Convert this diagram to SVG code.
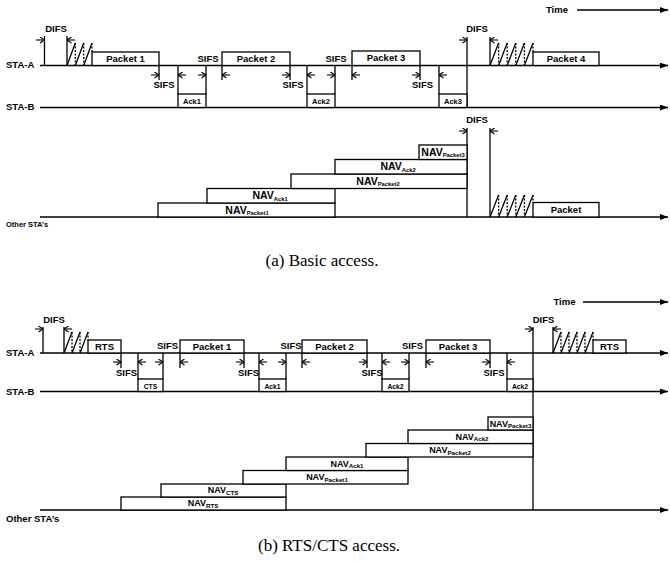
<svg xmlns="http://www.w3.org/2000/svg" width="670" height="563" viewBox="0 0 670 563">
<style>
.ln{stroke:#000;stroke-width:1.3;fill:none}
.bx{fill:#fff;stroke:#000;stroke-width:1.3}
.ax{stroke:#000;stroke-width:1.5;fill:none;marker-end:url(#ah)}
.ar{stroke:#000;stroke-width:1.1;fill:none;marker-end:url(#oa)}
.dash{stroke:#000;stroke-width:1.3;fill:none;stroke-dasharray:2 1.5}
.t{font-family:"Liberation Sans",Arial,Helvetica,sans-serif;font-weight:bold;font-size:9.5px;fill:#000}
.m{text-anchor:middle}
.s{font-size:7.5px}
.s2{font-size:6.8px}
.nv{font-size:10.5px}
.nv2{font-size:9px}
.sub{font-size:5.8px}
.sub2{font-size:6.2px}
.cap{font-family:"Liberation Serif","Times New Roman",serif;font-size:17px;fill:#000;text-anchor:middle}
</style>
<defs>
<marker id="ah" markerUnits="userSpaceOnUse" viewBox="0 0 8 6" markerWidth="8" markerHeight="6" refX="8" refY="3" orient="auto"><path d="M0,0 L8,3 L0,6 z" fill="#000"/></marker>
<marker id="oa" markerUnits="userSpaceOnUse" viewBox="0 0 6 7" markerWidth="6" markerHeight="7" refX="5.5" refY="3.5" orient="auto"><path d="M1,0.5 L5.5,3.5 L1,6.5" fill="none" stroke="#000" stroke-width="1.1"/></marker>
</defs>
<rect width="670" height="563" fill="#fff"/>

<!-- ================= (a) Basic access ================= -->
<g id="connectors-a">
<path class="ax" d="M577,10 H668"/>
<path class="ax" d="M40,65.5 H668"/>
<path class="ax" d="M40,107.5 H668"/>
<path class="ax" d="M40,217 H668"/>
<!-- DIFS / SIFS boundary lines -->
<path class="ln" d="M44.5,36 V65.5 M67,36 V65.5 M159,65 V80 M222,65 V80 M178,65 V94 M206,65 V94 M290,65 V80 M307,65 V94 M335,65 V94 M352,65 V80 M420,65 V80 M439,65 V94 M467,37 V107 M490,37 V65.5 M467,128 V217 M490,128 V217"/>
<!-- backoff -->
<path class="ln" d="M67,65.5 L75.3,43 M75.3,65.5 L83.7,43 M83.7,65.5 L92,43"/>
<path class="dash" d="M75.3,43 V65 M83.7,43 V65 M92,43 V52"/>
<path class="ln" d="M490,65.5 L498.6,43 M498.6,65.5 L507.2,43 M507.2,65.5 L515.8,43 M515.8,65.5 L524.4,43 M524.4,65.5 L533,43"/>
<path class="dash" d="M498.6,43 V65 M507.2,43 V65 M515.8,43 V65 M524.4,43 V65 M533,43 V52"/>
<path class="ln" d="M490,217 L498.6,195 M498.6,217 L507.2,195 M507.2,217 L515.8,195 M515.8,217 L524.4,195 M524.4,217 L533,195"/>
<path class="dash" d="M498.6,195 V217 M507.2,195 V217 M515.8,195 V217 M524.4,195 V217 M533,195 V202"/>
<!-- interval arrows -->
<path class="ar" d="M36,40 H44.5"/>
<path class="ar" d="M75,40 H67"/>
<path class="ar" d="M151,75 H159"/>
<path class="ar" d="M186,75 H178"/>
<path class="ar" d="M198,75 H206"/>
<path class="ar" d="M230,75 H222"/>
<path class="ar" d="M282,75 H290"/>
<path class="ar" d="M315,75 H307"/>
<path class="ar" d="M327,75 H335"/>
<path class="ar" d="M360,75 H352"/>
<path class="ar" d="M412,75 H420"/>
<path class="ar" d="M447,75 H439"/>
<path class="ar" d="M459,40 H467"/>
<path class="ar" d="M498,40 H490"/>
<path class="ar" d="M459,131 H467"/>
<path class="ar" d="M498,131 H490"/>
</g>

<g id="labels-a">
<text class="t" x="6" y="67.5">STA-A</text>
<text class="t" x="6" y="110">STA-B</text>
<text class="t s" x="6" y="227">Other STA’s</text>
<text class="t m" x="557" y="13">Time</text>
<text class="t m" x="56" y="32">DIFS</text>
<text class="t m" x="477" y="32">DIFS</text>
<text class="t m" x="477" y="123">DIFS</text>
<text class="t m" x="164" y="88">SIFS</text>
<text class="t m" x="208" y="61.5">SIFS</text>
<text class="t m" x="293" y="88">SIFS</text>
<text class="t m" x="336" y="62">SIFS</text>
<text class="t m" x="422.5" y="88">SIFS</text>
</g>

<g id="a-packet1"><rect class="bx" x="92" y="52" width="67" height="13.5"/><text class="t m" x="125.5" y="61.5">Packet 1</text></g>
<g id="a-ack1"><rect class="bx" x="178" y="94" width="28" height="13.5"/><text class="t m s" x="192" y="103.5">Ack1</text></g>
<g id="a-packet2"><rect class="bx" x="222" y="52" width="68" height="13.5"/><text class="t m" x="256" y="61.5">Packet 2</text></g>
<g id="a-ack2"><rect class="bx" x="307" y="94" width="28" height="13.5"/><text class="t m s" x="321" y="103.5">Ack2</text></g>
<g id="a-packet3"><rect class="bx" x="352" y="51" width="68" height="14.5"/><text class="t m" x="386" y="61">Packet 3</text></g>
<g id="a-ack3"><rect class="bx" x="439" y="94" width="28" height="13.5"/><text class="t m s" x="453" y="103.5">Ack3</text></g>
<g id="a-packet4"><rect class="bx" x="533" y="52" width="66" height="13.5"/><text class="t m" x="566" y="61.5">Packet 4</text></g>
<g id="a-packet"><rect class="bx" x="533" y="202.5" width="66" height="14.5"/><text class="t m" x="566" y="213">Packet</text></g>

<g id="a-nav-packet1"><rect class="bx" x="158" y="203" width="177" height="14"/><text class="t m nv" x="247" y="213.5">NAV<tspan class="sub" dy="1.5">Packet1</tspan></text></g>
<g id="a-nav-ack1"><rect class="bx" x="207" y="188.5" width="128" height="14.5"/><text class="t m nv" x="270" y="199">NAV<tspan class="sub" dy="1.5">Ack1</tspan></text></g>
<g id="a-nav-packet2"><rect class="bx" x="291" y="174" width="176" height="14.5"/><text class="t m nv" x="378" y="184.5">NAV<tspan class="sub" dy="1.5">Packet2</tspan></text></g>
<g id="a-nav-ack2"><rect class="bx" x="335" y="159.5" width="132" height="14.5"/><text class="t m nv" x="398" y="170">NAV<tspan class="sub" dy="1.5">Ack2</tspan></text></g>
<g id="a-nav-packet3"><rect class="bx" x="419" y="145" width="48" height="14.5"/><text class="t m nv" x="443" y="155.5">NAV<tspan class="sub" dy="1.5">Packet3</tspan></text></g>

<text class="cap" x="322" y="266">(a) Basic access.</text>

<!-- ================= (b) RTS/CTS access ================= -->
<g id="connectors-b">
<path class="ax" d="M583,302 H668"/>
<path class="ax" d="M40,353 H668"/>
<path class="ax" d="M40,391.5 H668"/>
<path class="ax" d="M40,510 H668"/>
<path class="ln" d="M43,327 V353 M64,327 V353 M121,353 V368 M138,353 V379 M163,353 V379 M180,353 V368 M244,353 V368 M259,353 V379 M286,353 V379 M302,353 V368 M367,353 V368 M382,353 V379 M409,353 V379 M426,353 V368 M490,353 V368 M507,353 V379 M533,327 V510 M553,327 V353"/>
<path class="ln" d="M64,353 L72,332 M72,353 L80,332 M80,353 L88,332"/>
<path class="dash" d="M72,332 V353 M80,332 V353 M88,332 V340"/>
<path class="ln" d="M553,353 L561,332 M561,353 L569,332 M569,353 L577,332 M577,353 L585,332 M585,353 L593,332"/>
<path class="dash" d="M561,332 V353 M569,332 V353 M577,332 V353 M585,332 V353 M593,332 V340"/>
<path class="ar" d="M35,329 H43"/>
<path class="ar" d="M72,329 H64"/>
<path class="ar" d="M113,362 H121"/>
<path class="ar" d="M146,362 H138"/>
<path class="ar" d="M155,362 H163"/>
<path class="ar" d="M188,362 H180"/>
<path class="ar" d="M236,362 H244"/>
<path class="ar" d="M267,362 H259"/>
<path class="ar" d="M278,362 H286"/>
<path class="ar" d="M310,362 H302"/>
<path class="ar" d="M359,362 H367"/>
<path class="ar" d="M390,362 H382"/>
<path class="ar" d="M401,362 H409"/>
<path class="ar" d="M434,362 H426"/>
<path class="ar" d="M482,362 H490"/>
<path class="ar" d="M515,362 H507"/>
<path class="ar" d="M525,329 H533"/>
<path class="ar" d="M561,329 H553"/>
</g>

<g id="labels-b">
<text class="t" x="6" y="356">STA-A</text>
<text class="t" x="6" y="394.5">STA-B</text>
<text class="t" x="6" y="521.5">Other STA’s</text>
<text class="t m" x="564.5" y="305">Time</text>
<text class="t m" x="54" y="323">DIFS</text>
<text class="t m" x="543.5" y="323">DIFS</text>
<text class="t m" x="126.5" y="375.5">SIFS</text>
<text class="t m" x="248.5" y="375.5">SIFS</text>
<text class="t m" x="372" y="375.5">SIFS</text>
<text class="t m" x="494" y="375.5">SIFS</text>
<text class="t m" x="167.5" y="349">SIFS</text>
<text class="t m" x="291" y="349">SIFS</text>
<text class="t m" x="412.5" y="349">SIFS</text>
</g>

<g id="b-rts1"><rect class="bx" x="88" y="340" width="33" height="13"/><text class="t m" x="104.5" y="350">RTS</text></g>
<g id="b-cts"><rect class="bx" x="138" y="379" width="25" height="12.5"/><text class="t m s2" x="150.5" y="388.5">CTS</text></g>
<g id="b-packet1"><rect class="bx" x="180" y="340" width="64" height="13"/><text class="t m" x="212" y="350">Packet 1</text></g>
<g id="b-ack1"><rect class="bx" x="259" y="379" width="27" height="12.5"/><text class="t m s2" x="272.5" y="388.5">Ack1</text></g>
<g id="b-packet2"><rect class="bx" x="302" y="340" width="65" height="13"/><text class="t m" x="334.5" y="350">Packet 2</text></g>
<g id="b-ack2a"><rect class="bx" x="382" y="379" width="27" height="12.5"/><text class="t m s2" x="395.5" y="388.5">Ack2</text></g>
<g id="b-packet3"><rect class="bx" x="426" y="340" width="64" height="13"/><text class="t m" x="458" y="350">Packet 3</text></g>
<g id="b-ack2b"><rect class="bx" x="507" y="379" width="26" height="12.5"/><text class="t m s2" x="520" y="388.5">Ack2</text></g>
<g id="b-rts2"><rect class="bx" x="593" y="340" width="33" height="13"/><text class="t m" x="609.5" y="350">RTS</text></g>

<g id="b-nav-rts"><rect class="bx" x="121" y="497" width="165" height="13"/><text class="t m nv2" x="203" y="506">NAV<tspan class="sub2" dy="1.5">RTS</tspan></text></g>
<g id="b-nav-cts"><rect class="bx" x="161" y="484" width="125" height="13"/><text class="t m nv2" x="223" y="493">NAV<tspan class="sub2" dy="1.5">CTS</tspan></text></g>
<g id="b-nav-packet1"><rect class="bx" x="243" y="470.5" width="165" height="13.5"/><text class="t m nv2" x="327" y="480">NAV<tspan class="sub2" dy="1.5">Packet1</tspan></text></g>
<g id="b-nav-ack1"><rect class="bx" x="286" y="457" width="122" height="13.5"/><text class="t m nv2" x="347" y="466.5">NAV<tspan class="sub2" dy="1.5">Ack1</tspan></text></g>
<g id="b-nav-packet2"><rect class="bx" x="366" y="443.5" width="167" height="13.5"/><text class="t m nv2" x="450" y="453">NAV<tspan class="sub2" dy="1.5">Packet2</tspan></text></g>
<g id="b-nav-ack2"><rect class="bx" x="408" y="430" width="125" height="13.5"/><text class="t m nv2" x="472" y="439.5">NAV<tspan class="sub2" dy="1.5">Ack2</tspan></text></g>
<g id="b-nav-packet3"><rect class="bx" x="488" y="417" width="45" height="13"/><text class="t m nv2" x="510.5" y="426.5">NAV<tspan class="sub2" dy="1.5">Packet3</tspan></text></g>

<text class="cap" x="329" y="551">(b) RTS/CTS access.</text>
</svg>
